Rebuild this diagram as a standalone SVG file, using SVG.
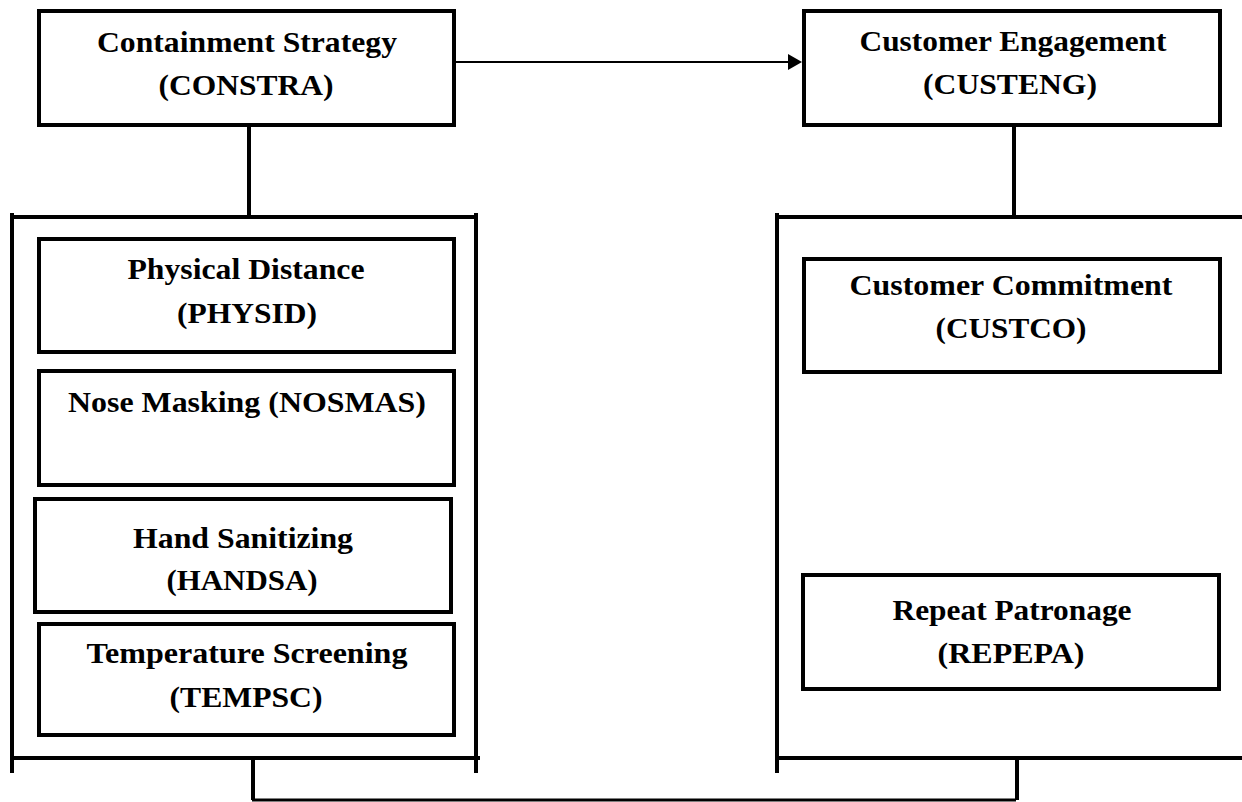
<svg xmlns="http://www.w3.org/2000/svg" width="1242" height="802" viewBox="0 0 1242 802">
<style>
.box{fill:#fff;stroke:#000;stroke-width:4}
.ln{stroke:#000;stroke-width:4;fill:none}
.thin{stroke:#000;stroke-width:2;fill:none}
.t{font-size:29px;fill:#000;text-anchor:middle}
</style>
<rect width="1242" height="802" fill="#fff"/>
<g id="connectors">
<line class="thin" x1="456" y1="62" x2="790" y2="62"/>
<polygon points="788,54 802,62 788,70" fill="#000"/>
<line class="ln" x1="249" y1="127" x2="249" y2="219"/>
<line class="ln" x1="1014" y1="127" x2="1014" y2="219"/>
<line class="ln" x1="253" y1="758" x2="253" y2="800"/>
<line class="ln" x1="1017" y1="758" x2="1017" y2="800"/>
<line class="thin" x1="252" y1="800" x2="1016" y2="800" style="stroke-width:3"/>
</g>
<g id="left-container">
<line class="ln" x1="10" y1="217" x2="478" y2="217"/>
<line class="ln" x1="12" y1="213" x2="12" y2="773"/>
<line class="ln" x1="476" y1="213" x2="476" y2="773"/>
<line class="ln" x1="14" y1="758" x2="480" y2="758"/>
</g>
<g id="right-container">
<line class="ln" x1="777" y1="217" x2="1242" y2="217"/>
<line class="ln" x1="777" y1="213" x2="777" y2="773"/>
<line class="ln" x1="779" y1="758" x2="1242" y2="758"/>
</g>
<g font-family="Times New Roman, Liberation Serif, serif" font-weight="bold">
<g id="constra">
<rect class="box" x="39" y="11" width="415" height="114"/>
<text class="t" x="247" y="52" textLength="300" lengthAdjust="spacingAndGlyphs">Containment Strategy</text>
<text class="t" x="246" y="95" textLength="175" lengthAdjust="spacingAndGlyphs">(CONSTRA)</text>
</g>
<g id="custeng">
<rect class="box" x="804" y="11" width="416" height="114"/>
<text class="t" x="1013" y="51" textLength="307" lengthAdjust="spacingAndGlyphs">Customer Engagement</text>
<text class="t" x="1010" y="94" textLength="174" lengthAdjust="spacingAndGlyphs">(CUSTENG)</text>
</g>
<g id="physid">
<rect class="box" x="39" y="239" width="415" height="113"/>
<text class="t" x="246" y="279" textLength="237" lengthAdjust="spacingAndGlyphs">Physical Distance</text>
<text class="t" x="247" y="323" textLength="140" lengthAdjust="spacingAndGlyphs">(PHYSID)</text>
</g>
<g id="nosmas">
<rect class="box" x="39" y="371" width="415" height="114"/>
<text class="t" x="247" y="412" textLength="358" lengthAdjust="spacingAndGlyphs">Nose Masking (NOSMAS)</text>
</g>
<g id="handsa">
<rect class="box" x="35" y="499" width="416" height="113"/>
<text class="t" x="243" y="548" textLength="220" lengthAdjust="spacingAndGlyphs">Hand Sanitizing</text>
<text class="t" x="242" y="590" textLength="151" lengthAdjust="spacingAndGlyphs">(HANDSA)</text>
</g>
<g id="tempsc">
<rect class="box" x="39" y="624" width="415" height="111"/>
<text class="t" x="247" y="663" textLength="321" lengthAdjust="spacingAndGlyphs">Temperature Screening</text>
<text class="t" x="246" y="707" textLength="153" lengthAdjust="spacingAndGlyphs">(TEMPSC)</text>
</g>
<g id="custco">
<rect class="box" x="804" y="259" width="416" height="113"/>
<text class="t" x="1011" y="295" textLength="323" lengthAdjust="spacingAndGlyphs">Customer Commitment</text>
<text class="t" x="1011" y="338" textLength="151" lengthAdjust="spacingAndGlyphs">(CUSTCO)</text>
</g>
<g id="repepa">
<rect class="box" x="803" y="575" width="416" height="114"/>
<text class="t" x="1012" y="620" textLength="239" lengthAdjust="spacingAndGlyphs">Repeat Patronage</text>
<text class="t" x="1011" y="663" textLength="147" lengthAdjust="spacingAndGlyphs">(REPEPA)</text>
</g>
</g>
</svg>
